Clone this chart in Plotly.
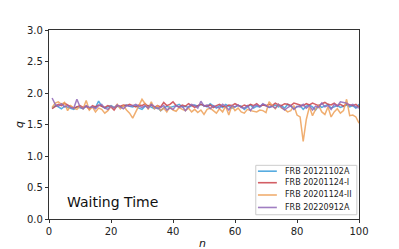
import plotly.graph_objects as go

blue = [1.76,1.80,1.78,1.75,1.79,1.77,1.76,1.74,1.78,1.77,1.75,1.79,1.76,1.78,1.77,1.87,1.79,1.76,1.78,1.80,
        1.77,1.79,1.78,1.80,1.81,1.79,1.78,1.80,1.76,1.74,1.79,1.80,1.78,1.75,1.77,1.72,1.76,1.79,1.77,1.78,
        1.80,1.82,1.78,1.79,1.77,1.80,1.81,1.79,1.82,1.80,1.78,1.83,1.79,1.76,1.80,1.77,1.82,1.79,1.76,1.78,
        1.80,1.79,1.74,1.78,1.81,1.76,1.79,1.78,1.82,1.80,1.77,1.79,1.81,1.78,1.80,1.76,1.82,1.79,1.75,1.78,
        1.80,1.74,1.79,1.81,1.78,1.73,1.80,1.77,1.79,1.82,1.76,1.78,1.80,1.77,1.79,1.81,1.78,1.80,1.76,1.82]
red = [1.75,1.78,1.82,1.80,1.84,1.81,1.79,1.76,1.78,1.80,1.77,1.79,1.74,1.80,1.78,1.81,1.79,1.77,1.80,1.78,
       1.73,1.80,1.79,1.81,1.80,1.82,1.80,1.78,1.81,1.80,1.83,1.79,1.81,1.77,1.80,1.78,1.85,1.80,1.82,1.86,
       1.80,1.78,1.81,1.79,1.83,1.80,1.77,1.80,1.82,1.80,1.79,1.81,1.77,1.80,1.82,1.79,1.78,1.81,1.80,1.83,
       1.80,1.78,1.81,1.79,1.82,1.80,1.83,1.79,1.81,1.80,1.82,1.80,1.84,1.81,1.80,1.83,1.82,1.80,1.84,1.82,
       1.81,1.80,1.83,1.81,1.84,1.82,1.80,1.83,1.85,1.82,1.81,1.84,1.80,1.82,1.79,1.83,1.81,1.80,1.82,1.78]
orange = [1.77,1.84,1.86,1.82,1.85,1.72,1.80,1.76,1.74,1.79,1.75,1.88,1.73,1.78,1.70,1.76,1.74,1.68,1.72,1.79,
          1.76,1.82,1.75,1.80,1.73,1.68,1.60,1.70,1.80,1.90,1.83,1.74,1.86,1.75,1.80,1.72,1.76,1.70,1.78,1.73,
          1.71,1.77,1.74,1.72,1.76,1.70,1.74,1.69,1.73,1.66,1.74,1.76,1.72,1.68,1.75,1.70,1.79,1.65,1.80,1.72,
          1.76,1.70,1.68,1.74,1.72,1.71,1.70,1.73,1.72,1.69,1.86,1.80,1.75,1.82,1.76,1.74,1.70,1.72,1.80,1.65,
          1.62,1.23,1.58,1.78,1.64,1.74,1.80,1.70,1.66,1.78,1.62,1.70,1.75,1.68,1.72,1.90,1.64,1.65,1.62,1.52]
purple = [1.92,1.82,1.79,1.83,1.78,1.80,1.77,1.76,1.90,1.78,1.75,1.80,1.77,1.78,1.75,1.80,1.82,1.76,1.74,1.79,
          1.76,1.81,1.78,1.75,1.80,1.79,1.80,1.82,1.79,1.77,1.80,1.76,1.82,1.78,1.75,1.77,1.80,1.73,1.76,1.74,
          1.80,1.77,1.79,1.72,1.78,1.82,1.80,1.76,1.87,1.79,1.81,1.75,1.80,1.78,1.76,1.82,1.79,1.73,1.80,1.78,
          1.81,1.77,1.76,1.80,1.72,1.79,1.81,1.78,1.83,1.80,1.77,1.79,1.76,1.82,1.78,1.73,1.77,1.80,1.74,1.79,
          1.78,1.82,1.76,1.80,1.73,1.79,1.77,1.84,1.78,1.80,1.74,1.82,1.79,1.86,1.85,1.84,1.80,1.82,1.78,1.76]

names = ["FRB 20121102A", "FRB 20201124-I", "FRB 20201124-II", "FRB 20220912A"]
colors = ["#3a9edb", "#cc434b", "#eea058", "#9068b8"]
series = [blue, red, orange, purple]

fig = go.Figure()
for name, ys, c in zip(names, series, colors):
    xs = list(range(1, len(ys) + 1))
    fig.add_trace(go.Scatter(x=xs, y=ys, mode="lines", name=name,
                             line=dict(color=c, width=1.5), opacity=0.85,
                             showlegend=False))

axis_common = dict(showline=True, linecolor="#333", linewidth=1.2, mirror=True,
                   ticks="outside", ticklen=3, tickcolor="#333", showgrid=False,
                   zeroline=False, tickfont=dict(size=10, color="#222"))

# page body has an 8px margin; compensate so the plot area lands where the reference has it
fig.update_layout(
    width=391, height=241,
    margin=dict(l=41, r=40, t=22, b=28),
    paper_bgcolor="white", plot_bgcolor="white",
    font=dict(family="DejaVu Sans", color="#222"),
    xaxis=dict(range=[0, 100], tickvals=[0, 20, 40, 60, 80, 100], **axis_common),
    yaxis=dict(range=[0, 3.0], tickvals=[0, 0.5, 1.0, 1.5, 2.0, 2.5, 3.0],
               tickformat=".1f", **axis_common),
    showlegend=False,
)

# compact legend box (matplotlib style)
fig.add_shape(type="rect", xref="paper", yref="paper", x0=0.667, x1=0.993, y0=0.0225, y1=0.284,
              line=dict(color="#cccccc", width=1), fillcolor="rgba(255,255,255,0.9)", layer="above")
row_y = [0.253, 0.192, 0.127, 0.061]
for name, c, yy in zip(names, colors, row_y):
    fig.add_shape(type="line", xref="paper", yref="paper", x0=0.674, x1=0.735, y0=yy, y1=yy,
                  line=dict(color=c, width=1.6), opacity=0.85, layer="above")
    fig.add_annotation(x=0.755, y=yy, xref="paper", yref="paper", text=name, showarrow=False,
                       xanchor="left", yanchor="middle", font=dict(size=8, color="#222"))

fig.add_annotation(x=5.2, y=0.27, xref="x", yref="y", text="Waiting Time",
                   showarrow=False, xanchor="left", yanchor="middle",
                   font=dict(size=14, color="#111"))
fig.add_annotation(x=0.496, y=-0.085, xref="paper", yref="paper", text="<i>n</i>",
                   showarrow=False, xanchor="center", yanchor="top", font=dict(size=11, color="#111"))
fig.add_annotation(x=-0.095, y=0.5, xref="paper", yref="paper", text="<i>q</i>",
                   showarrow=False, textangle=-90, xanchor="center", yanchor="middle",
                   font=dict(size=11, color="#111"))

fig.write_html("out.html")
